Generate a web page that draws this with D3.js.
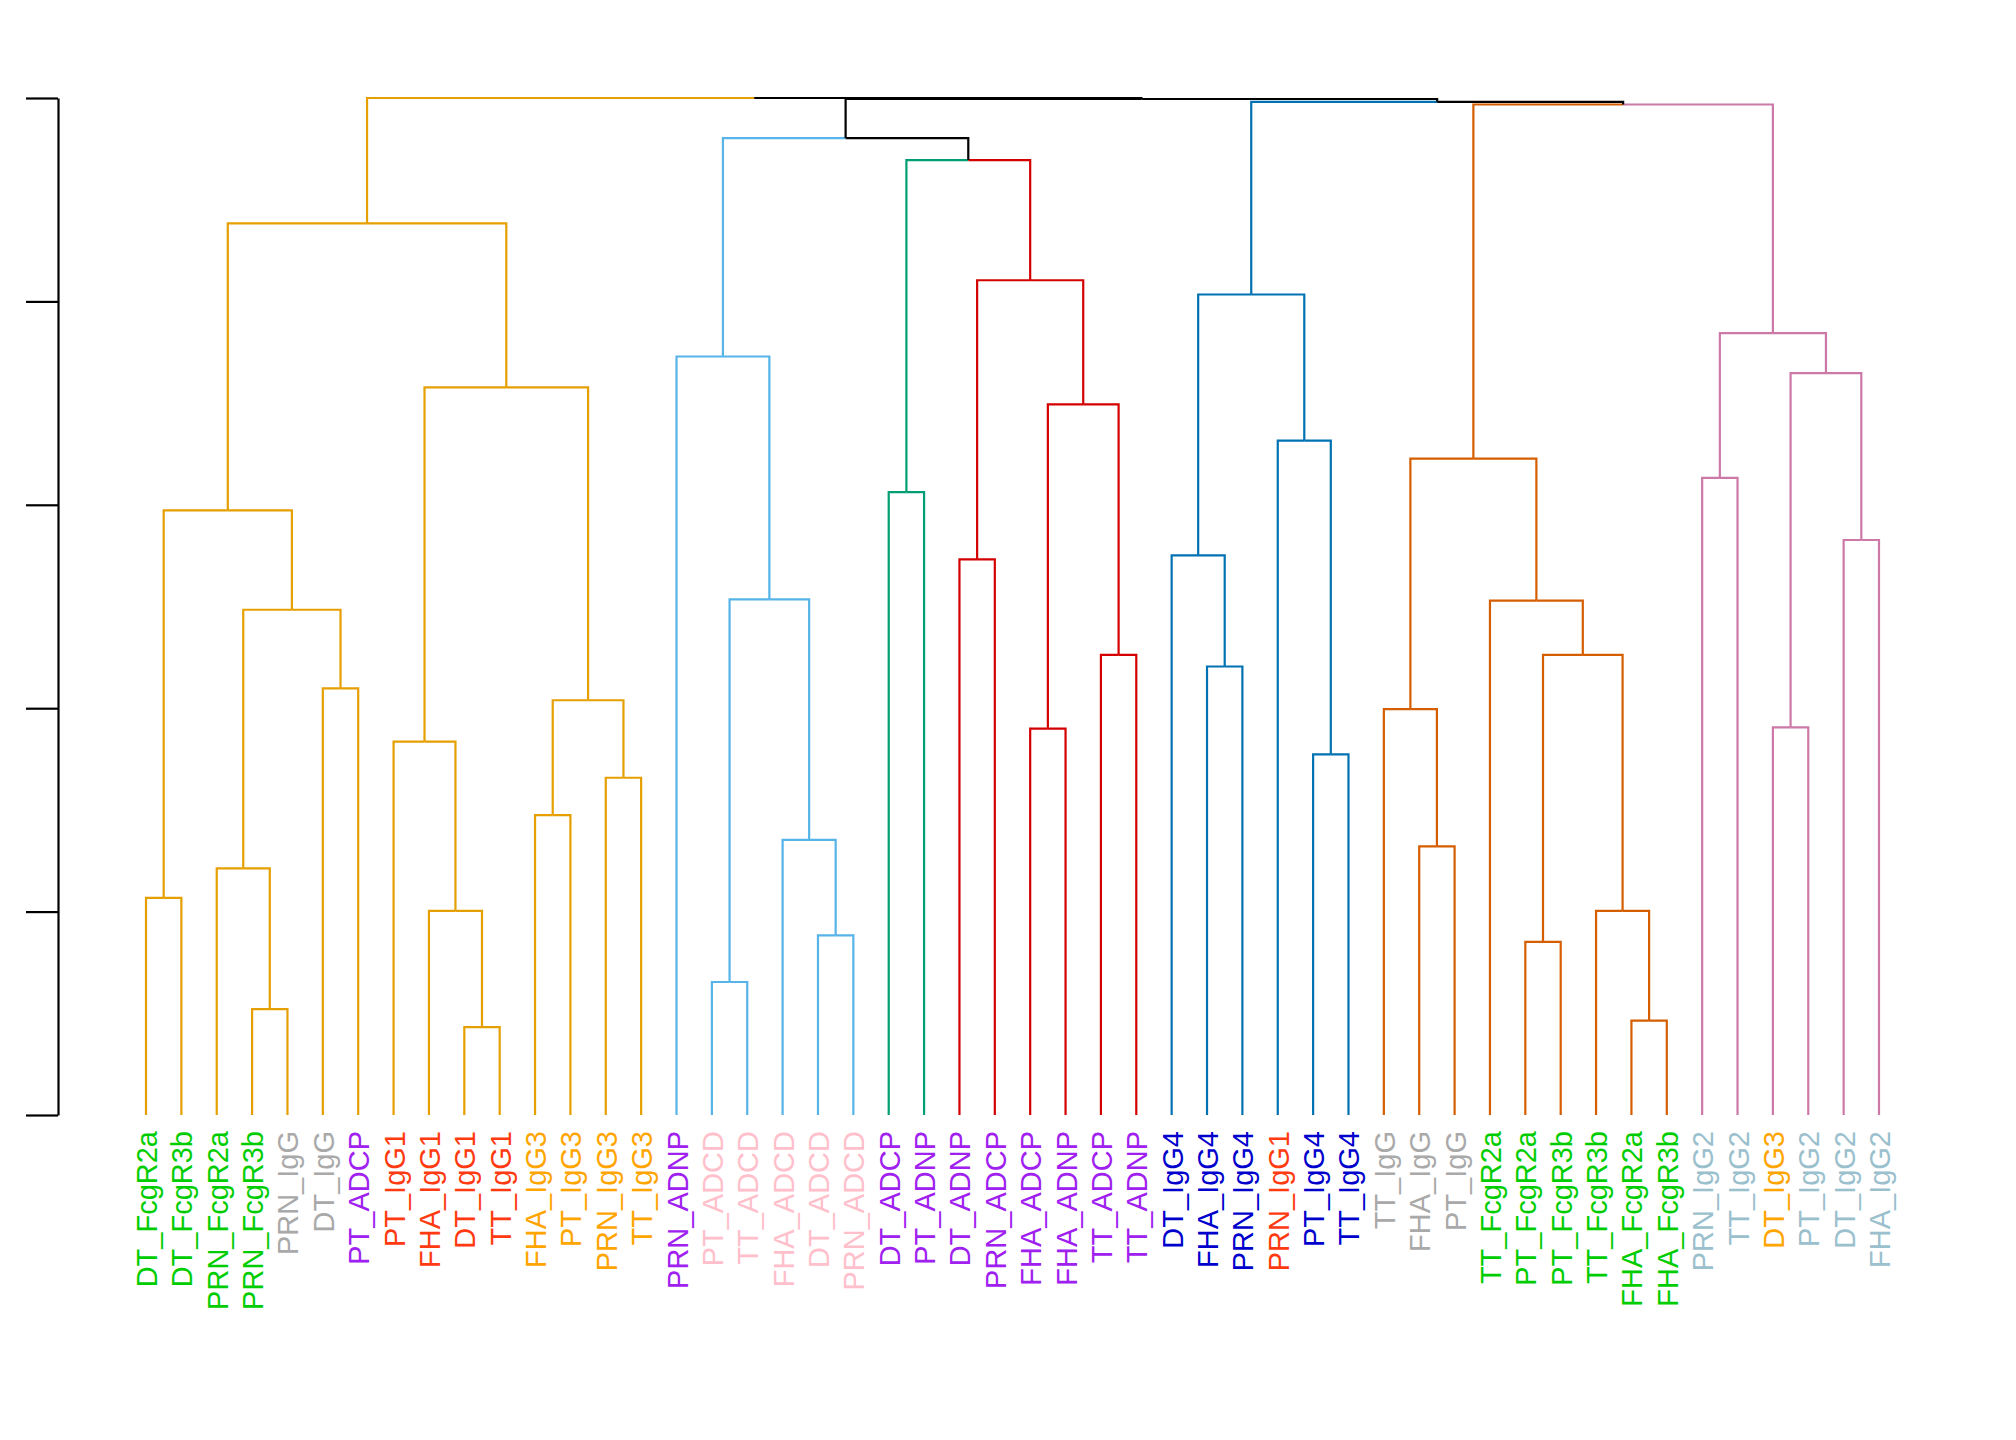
<!DOCTYPE html>
<html><head><meta charset="utf-8">
<script src="https://cdn.jsdelivr.net/npm/d3@7"></script>
<style>body{margin:0;background:#fff}</style>
</head><body>
<svg id="c" width="2016" height="1440"></svg>
<script>
const labels = ["DT_FcgR2a","DT_FcgR3b","PRN_FcgR2a","PRN_FcgR3b","PRN_IgG","DT_IgG","PT_ADCP","PT_IgG1","FHA_IgG1","DT_IgG1","TT_IgG1","FHA_IgG3","PT_IgG3","PRN_IgG3","TT_IgG3","PRN_ADNP","PT_ADCD","TT_ADCD","FHA_ADCD","DT_ADCD","PRN_ADCD","DT_ADCP","PT_ADNP","DT_ADNP","PRN_ADCP","FHA_ADCP","FHA_ADNP","TT_ADCP","TT_ADNP","DT_IgG4","FHA_IgG4","PRN_IgG4","PRN_IgG1","PT_IgG4","TT_IgG4","TT_IgG","FHA_IgG","PT_IgG","TT_FcgR2a","PT_FcgR2a","PT_FcgR3b","TT_FcgR3b","FHA_FcgR2a","FHA_FcgR3b","PRN_IgG2","TT_IgG2","DT_IgG3","PT_IgG2","DT_IgG2","FHA_IgG2"];
const labelGroups = ["g","g","g","g","gr","gr","p","r","r","r","r","o","o","o","o","p","pk","pk","pk","pk","pk","p","p","p","p","p","p","p","p","b","b","b","r","b","b","gr","gr","gr","g","g","g","g","g","g","lb","lb","o","lb","lb","lb"];
const labelColors = {g:"#00CD00",gr:"#A9A9A9",p:"#A020F0",r:"#FF3A10",o:"#FFA500",pk:"#FFC0CB",b:"#0000CD",lb:"#9AC0CD"};
// hclust-style merges: negative = leaf (1-based), positive = merge row (1-based); height
const merges = [
[-1,-2,1.067],[-4,-5,0.521],[-3,2,1.213],[-6,-7,2.097],[3,4,2.484],[1,5,2.973],
[-10,-11,0.432],[-9,7,1.004],[-8,8,1.836],[-12,-13,1.474],[-14,-15,1.658],[10,11,2.039],
[9,12,3.577],[6,13,4.384],
[-17,-18,0.654],[-20,-21,0.883],[-19,16,1.353],[15,17,2.535],[-16,18,3.729],
[-22,-23,3.062],
[-24,-25,2.732],[-26,-27,1.900],[-28,-29,2.262],[22,23,3.494],[21,24,4.104],
[20,25,4.695],[19,26,4.803],
[-31,-32,2.205],[-30,28,2.751],[-34,-35,1.773],[-33,30,3.316],[29,31,4.034],
[-37,-38,1.321],[-36,33,1.995],[-40,-41,0.851],[-43,-44,0.464],[-42,36,1.004],[35,37,2.262],[-39,38,2.529],[34,39,3.227],
[-45,-46,3.132],[-47,-48,1.906],[-49,-50,2.827],[42,43,3.647],[41,44,3.844],
[40,45,4.968],[32,46,4.981],[27,47,4.995],[14,48,5.0]
];
const clusterRoots = [14,19,20,25,32,40,45];
const clusterColors = ["#E69F00","#56B4E9","#009E73","#D40000","#0072B2","#D55E00","#CC79A7"];
const yTicks = [0,1,2,3,4,5];

const svg = d3.select("#c");
const x = d3.scaleLinear().domain([1,labels.length]).range([146,1879]);
const y = d3.scaleLinear().domain([0,5]).range([1115,98]);

// node info
const nodeX = {}, nodeH = {}, nodeColor = {};
function key(i){return i<0?"L"+(-i):"M"+i;}
for(let i=1;i<=labels.length;i++){nodeX["L"+i]=x(i);nodeH["L"+i]=0;}
merges.forEach((m,i)=>{const k="M"+(i+1);nodeX[k]=(nodeX[key(m[0])]+nodeX[key(m[1])])/2;nodeH[k]=m[2];});
function paint(i,col){const k=key(i);nodeColor[k]=col;if(i>0){paint(merges[i-1][0],col);paint(merges[i-1][1],col);}}
clusterRoots.forEach((r,j)=>paint(r,clusterColors[j]));

const g = svg.append("g").attr("fill","none").attr("stroke-width",2.2);
merges.forEach((m,i)=>{
  const k="M"+(i+1);
  [m[0],m[1]].forEach(c=>{
    const ck=key(c);
    const col=nodeColor[ck]||"#000";
    g.append("path").attr("stroke",col)
     .attr("d",`M${nodeX[k]},${y(nodeH[k])}H${nodeX[ck]}V${y(nodeH[ck])}`);
  });
});

// axis
const ax = svg.append("g").attr("transform","translate(58,0)")
  .call(d3.axisLeft(y).tickValues(yTicks).tickSize(32).tickSizeOuter(0).tickFormat(""));
ax.selectAll("path,line").attr("stroke","#000").attr("stroke-width",2.2);

// labels
svg.append("g").selectAll("text").data(labels).join("text")
  .attr("transform",(d,i)=>`translate(${x(i+1)+11},1131) rotate(-90)`)
  .attr("text-anchor","end")
  .attr("font-family","Liberation Sans, Arial, sans-serif")
  .attr("font-size",29)
  .attr("fill",(d,i)=>labelColors[labelGroups[i]])
  .text(d=>d);
</script>
</body></html>
